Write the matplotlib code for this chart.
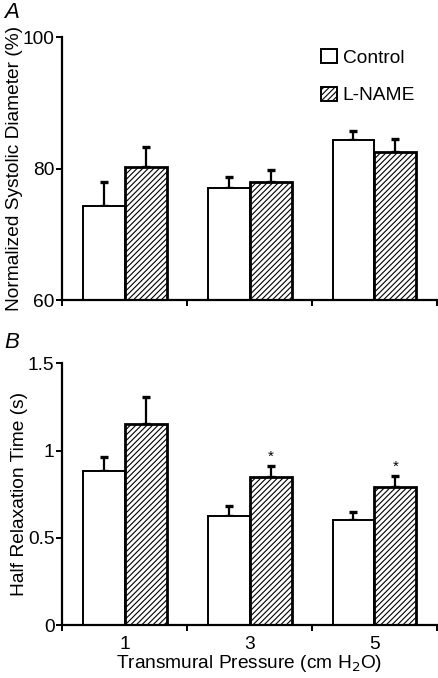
import numpy as np
import matplotlib.pyplot as plt
from matplotlib.patches import Patch

plt.rcParams['font.family'] = ['Liberation Sans', 'DejaVu Sans']
plt.rcParams['hatch.linewidth'] = 0.8

groups = ['1', '3', '5']
series = ['Control', 'L-NAME']

# panel A: normalized systolic diameter (%)
diam_ctrl = [74.3, 77.1, 84.3]
diam_ctrl_err = [3.6, 1.6, 1.4]
diam_lname = [80.3, 78.0, 82.5]
diam_lname_err = [2.9, 1.7, 2.0]

# panel B: half relaxation time (s)
relax_ctrl = [0.883, 0.626, 0.601]
relax_ctrl_err = [0.082, 0.057, 0.046]
relax_lname = [1.152, 0.851, 0.793]
relax_lname_err = [0.157, 0.063, 0.062]
relax_star = [False, True, True]

fs = 13.8

fig = plt.figure(figsize=(4.38, 6.78), dpi=100)
axA = fig.add_axes([0.1416, 0.5575, 0.8561, 0.3879])
axB = fig.add_axes([0.1416, 0.0777, 0.8561, 0.3864])

x = np.arange(len(groups)) + 0.5
w = 0.336


def draw(ax, c, ce, l, le, ybase):
    ax.bar(x - w / 2, np.array(c) - ybase, w, bottom=ybase, color='white',
           edgecolor='black', linewidth=1.4, zorder=2)
    ax.bar(x + w / 2, np.array(l) - ybase, w, bottom=ybase, color='white',
           edgecolor='black', linewidth=2.0, hatch='//////', zorder=2)
    ax.errorbar(x - w / 2, c, yerr=[np.zeros(3), ce], fmt='none', ecolor='black',
                elinewidth=1.6, capsize=3, capthick=2.4, zorder=1)
    ax.errorbar(x + w / 2, l, yerr=[np.zeros(3), le], fmt='none', ecolor='black',
                elinewidth=1.6, capsize=3, capthick=2.4, zorder=1)
    ax.set_xlim(0, 3)
    for s in ['top', 'right']:
        ax.spines[s].set_visible(False)
    for s in ['left', 'bottom']:
        ax.spines[s].set_linewidth(1.6)
    ax.tick_params(axis='both', width=1.4, length=4, labelsize=fs, pad=1.5)


draw(axA, diam_ctrl, diam_ctrl_err, diam_lname, diam_lname_err, 60)
axA.set_ylim(60, 100)
axA.set_yticks([60, 80, 100])
axA.set_xticks([0, 1, 2, 3])
axA.set_xticklabels([])
axA.set_ylabel('Normalized Systolic Diameter (%)', fontsize=fs, labelpad=0)
axA.legend(handles=[Patch(facecolor='white', edgecolor='black', linewidth=1.4),
                    Patch(facecolor='white', edgecolor='black', linewidth=1.4, hatch='//////')],
           labels=series, loc='upper left', bbox_to_anchor=(0.69, 0.955),
           frameon=False, fontsize=fs, handlelength=0.85, handleheight=0.75,
           handletextpad=0.3, labelspacing=1.05, borderpad=0, borderaxespad=0)

draw(axB, relax_ctrl, relax_ctrl_err, relax_lname, relax_lname_err, 0)
axB.set_ylim(0, 1.5)
axB.set_yticks([0, 0.5, 1, 1.5])
axB.set_yticklabels(['0', '0.5', '1', '1.5'])
axB.set_xticks([0, 1, 2, 3])
axB.set_xticklabels([])
axB.set_xticks(x, minor=True)
axB.set_xticklabels(groups, minor=True)
axB.tick_params(axis='x', which='minor', length=0, labelsize=fs, pad=8)
axB.set_ylabel('Half Relaxation Time (s)', fontsize=fs, labelpad=0)
axB.set_xlabel('Transmural Pressure (cm H$_2$O)', fontsize=fs, labelpad=0)
for i in range(len(groups)):
    if relax_star[i]:
        axB.text(x[i] + w / 2, relax_lname[i] + relax_lname_err[i] + 0.01, '*',
                 ha='center', va='bottom', fontsize=11)

fig.text(0.01, 0.997, 'A', fontsize=16, style='italic', va='top', ha='left')
fig.text(0.01, 0.51, 'B', fontsize=16, style='italic', va='top', ha='left')

fig.savefig('out.png', dpi=100)
